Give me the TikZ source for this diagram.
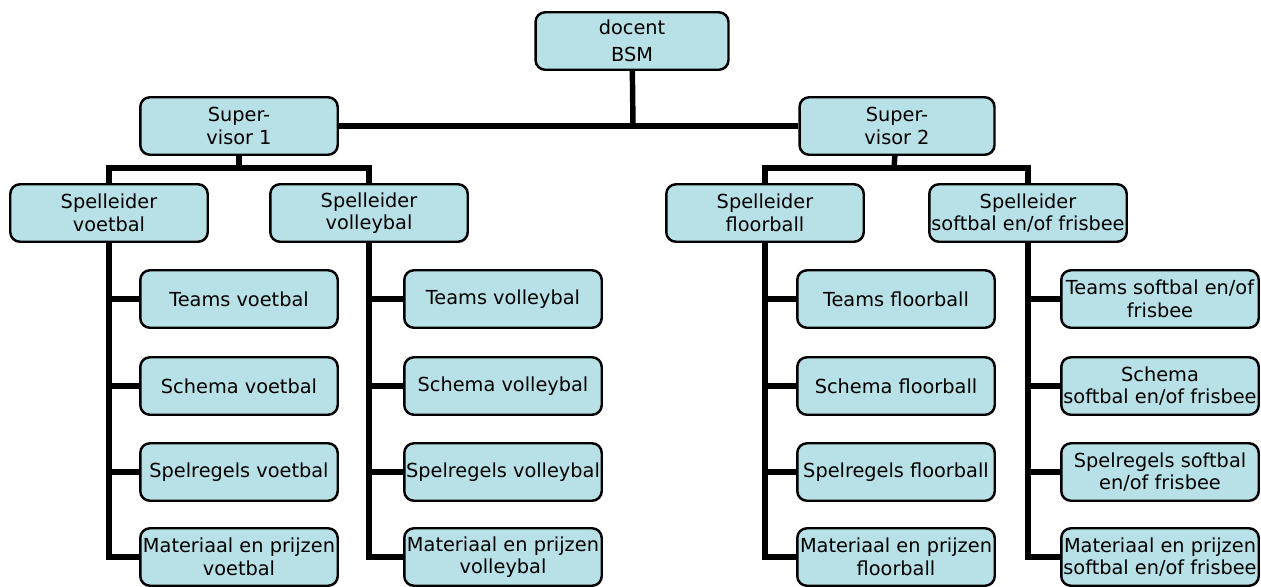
\documentclass[tikz,border=0pt]{standalone}
\usepackage{fontspec}
\setmainfont{DejaVu Sans}
\definecolor{boxblue}{RGB}{183,225,230}
\begin{document}
\begin{tikzpicture}[x=0.02cm, y=-0.02cm,
    box/.style={draw, line width=1.4pt, fill=boxblue, rounded corners=5.5pt,
      minimum width=3.95cm, minimum height=1.15cm, inner sep=1pt, align=center,
      font=\fontsize{11}{12.8}\selectfont},
    conn/.style={line width=3.1pt}]
            \useasboundingbox (0,0) rectangle (1261,586);

            \node[box, minimum width=3.86cm, font=\fontsize{11}{15.5}\selectfont] (doc) at (632,41) {docent\\BSM};
            \node[box] (sup1) at (239,126) {Super-\\visor 1};
            \node[box, minimum width=3.9cm] (sup2) at (897,126) {Super-\\visor 2};
            \draw[conn] (sup1) -- (sup2);
            \coordinate (top) at (633,126);
            \draw[conn] (doc) -- (top);

            \node[box] (slvoet) at (109,213) {Spelleider\\voetbal};
            \node[box] (slvolley) at (369,213) {Spelleider\\volleybal};
            \node[box] (slfloor) at (765,213) {Spelleider\\floorball};
            \node[box] (slsoft) at (1028,213) {Spelleider\\softbal en/of frisbee};
            \coordinate (j1) at (239,168);
            \coordinate (j2) at (894,168);
            \draw[conn] (sup1) -- (j1);
            \draw[conn] (slvoet) |- (j1) -| (slvolley);
            \draw[conn] (sup2) -- (j2);
            \draw[conn] (slfloor) |- (j2) -| (slsoft);

            \node[box] (tvoet) at (239,299) {Teams voetbal};
            \node[box] (svoet) at (239,386) {Schema voetbal};
            \node[box] (rvoet) at (239,472) {Spelregels voetbal};
            \node[box] (mvoet) at (239,557) {Materiaal en prijzen\\voetbal};
            \draw[conn] (slvoet) |- (tvoet);
            \draw[conn] (slvoet) |- (svoet);
            \draw[conn] (slvoet) |- (rvoet);
            \draw[conn] (slvoet) |- (mvoet);

            \node[box] (tvolley) at (503,299) {Teams volleybal};
            \node[box] (svolley) at (503,386) {Schema volleybal};
            \node[box] (rvolley) at (503,472) {Spelregels volleybal};
            \node[box] (mvolley) at (503,557) {Materiaal en prijzen\\volleybal};
            \draw[conn] (slvolley) |- (tvolley);
            \draw[conn] (slvolley) |- (svolley);
            \draw[conn] (slvolley) |- (rvolley);
            \draw[conn] (slvolley) |- (mvolley);

            \node[box] (tfloor) at (896,299) {Teams floorball};
            \node[box] (sfloor) at (896,386) {Schema floorball};
            \node[box] (rfloor) at (896,472) {Spelregels floorball};
            \node[box] (mfloor) at (896,557) {Materiaal en prijzen\\floorball};
            \draw[conn] (slfloor) |- (tfloor);
            \draw[conn] (slfloor) |- (sfloor);
            \draw[conn] (slfloor) |- (rfloor);
            \draw[conn] (slfloor) |- (mfloor);

            \node[box] (tsoft) at (1160,299) {Teams softbal en/of\\frisbee};
            \node[box] (ssoft) at (1160,386) {Schema\\softbal en/of frisbee};
            \node[box] (rsoft) at (1160,472) {Spelregels softbal\\en/of frisbee};
            \node[box] (msoft) at (1160,557) {Materiaal en prijzen\\softbal en/of frisbee};
            \draw[conn] (slsoft) |- (tsoft);
            \draw[conn] (slsoft) |- (ssoft);
            \draw[conn] (slsoft) |- (rsoft);
            \draw[conn] (slsoft) |- (msoft);
        \end{tikzpicture}
\end{document}
